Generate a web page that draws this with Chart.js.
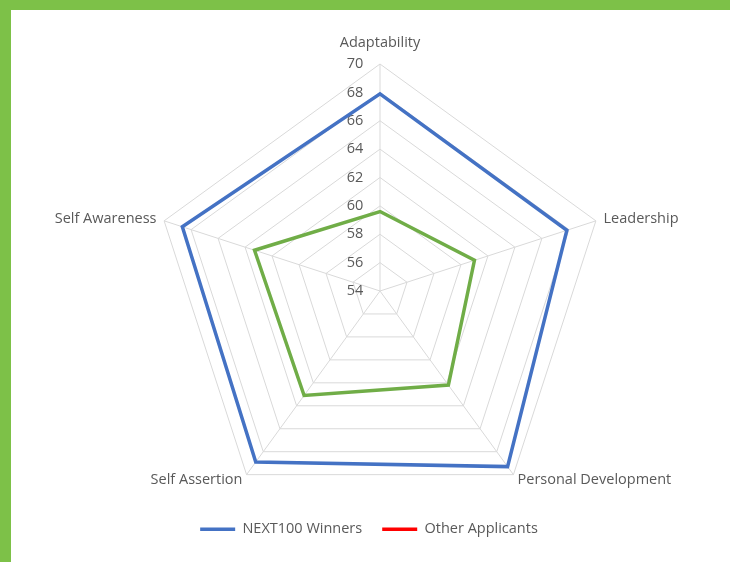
<!DOCTYPE html>
<html><head><meta charset="utf-8">
<script src="https://cdn.jsdelivr.net/npm/chart.js@4"></script>
<style>
html,body{margin:0;padding:0;background:#fff;width:730px;height:562px;overflow:hidden;}
#wrap{position:relative;width:730px;height:562px;background:#fff;}
canvas{position:absolute;left:0;top:0;}
.band{position:absolute;background:#7DC148;z-index:2;}
</style></head><body>
<div id="wrap">
<canvas id="c" width="730" height="562"></canvas>
<div class="band" style="left:0;top:0;width:730px;height:10px"></div>
<div class="band" style="left:0;top:0;width:11px;height:562px"></div>
</div>
<script>
// ---- data ----
const categories = ['Adaptability', 'Leadership', 'Personal Development', 'Self Assertion', 'Self Awareness'];
const seriesNames = ['NEXT100 Winners', 'Other Applicants'];
const winners = [67.9, 67.85, 69.3, 68.9, 68.65];
const others = [59.6, 61.0, 62.2, 63.1, 63.3];
const tickValues = [54, 56, 58, 60, 62, 64, 66, 68, 70];

// ---- styles ----
const BLUE = '#4472C4';
const GREEN = '#70AD47';
const LEGEND_COLORS = [BLUE, '#FF0000'];
const TEXT = '#595959';
const GRID = '#D9D9D9';
const FONT = "'Open Sans', 'Noto Sans', sans-serif";
const FSIZE = 14.5;
const LABEL_PAD = [21, 8, 7, 7, 8];

Chart.defaults.font.family = FONT;
Chart.defaults.font.size = FSIZE;
Chart.defaults.color = TEXT;

const tickLabelPlugin = {
  id: 'tickLabels',
  beforeDatasetsDraw(chart) {
    const s = chart.scales.r, ctx = chart.ctx;
    ctx.save();
    ctx.font = FSIZE + 'px ' + FONT;
    ctx.fillStyle = TEXT;
    ctx.textAlign = 'center';
    ctx.textBaseline = 'middle';
    tickValues.forEach(v => {
      const d = s.getDistanceFromCenterForValue(v);
      ctx.fillText(String(v), s.xCenter - 25, s.yCenter - d);
    });
    ctx.restore();
  }
};

const legendShift = {
  id: 'legendShift',
  afterLayout(chart) {
    const l = chart.legend;
    if (!l) return;
    l.left -= 11; l.right -= 11;
    l.top -= 27; l.bottom -= 27;
  }
};

new Chart(document.getElementById('c'), {
  type: 'radar',
  data: {
    labels: categories,
    datasets: [
      { label: seriesNames[0], data: winners, borderColor: BLUE, backgroundColor: BLUE,
        borderWidth: 3.5, fill: false, pointRadius: 0, pointHoverRadius: 0, borderJoinStyle: 'miter', tension: 0 },
      { label: seriesNames[1], data: others, borderColor: GREEN, backgroundColor: GREEN,
        borderWidth: 3.5, fill: false, pointRadius: 0, pointHoverRadius: 0, borderJoinStyle: 'miter', tension: 0 }
    ]
  },
  options: {
    responsive: false,
    animation: false,
    layout: { padding: { top: 33, bottom: -11.5, left: 30, right: 0 } },
    scales: {
      r: {
        min: 54, max: 70,
        ticks: { display: false, stepSize: 2 },
        grid: { color: GRID, lineWidth: 1 },
        angleLines: { color: GRID, lineWidth: 1 },
        pointLabels: {
          color: TEXT,
          font: { size: FSIZE, lineHeight: 0 },
          padding: (ctx) => LABEL_PAD[ctx.index]
        }
      }
    },
    plugins: {
      tooltip: { enabled: false },
      legend: {
        position: 'bottom',
        labels: {
          usePointStyle: true,
          pointStyle: 'line',
          pointStyleWidth: 35,
          padding: 20,
          color: TEXT,
          font: { size: FSIZE },
          generateLabels(chart) {
            const items = Chart.defaults.plugins.legend.labels.generateLabels(chart);
            items.forEach((it, i) => {
              it.strokeStyle = LEGEND_COLORS[i];
              it.fillStyle = LEGEND_COLORS[i];
              it.lineWidth = 3.5;
              it.pointStyle = 'line';
            });
            return items;
          }
        }
      }
    }
  },
  plugins: [tickLabelPlugin, legendShift]
});
</script>
</body></html>
